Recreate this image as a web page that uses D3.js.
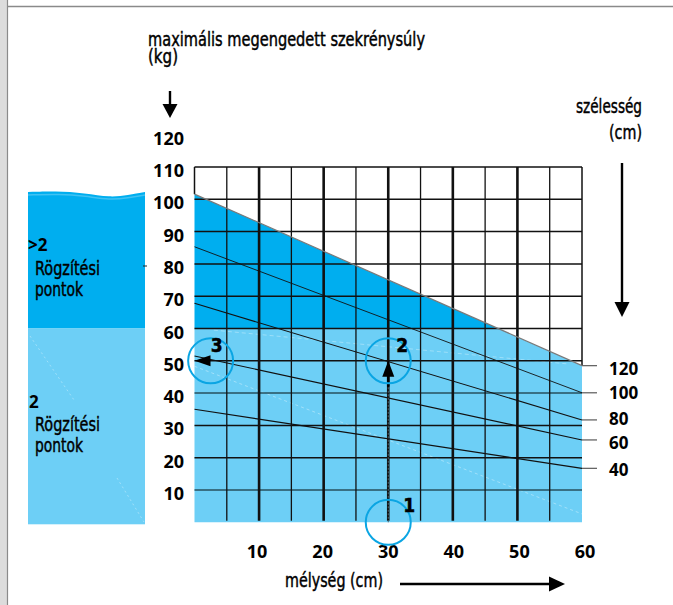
<!DOCTYPE html>
<html>
<head>
<meta charset="utf-8">
<script src="https://cdn.jsdelivr.net/npm/d3@7"></script>
<style>
  html, body { margin: 0; padding: 0; background: #fff; }
  svg { display: block; }
  .cond { font-family: "Liberation Sans Narrow", "DejaVu Sans Condensed", "Liberation Sans", sans-serif; stroke: #000; stroke-width: 0.45px; }
  .num { font-family: "Open Sans", "Noto Sans", sans-serif; font-weight: 700; }
</style>
</head>
<body>
<svg id="chart" width="673" height="605"></svg>
<script>
// Depth (cm) along the bottom, maximum permitted cabinet weight (kg) up the side
const depthTicks = [10, 20, 30, 40, 50, 60];
const weightTicks = [10, 20, 30, 40, 50, 60, 70, 80, 90, 100, 110, 120];
const gridDepths = [0, 5, 10, 15, 20, 25, 30, 35, 40, 45, 50, 55, 60];
const thickDepths = [10, 20, 30, 40, 50];
const gridWeights = [10, 20, 30, 40, 50, 60, 70, 80, 90, 100, 110];

// Cabinet widths (cm): allowed weight at depth 0 and at depth 60
const widthLabels = [120, 100, 80, 60, 40];
const widthAtDepth0 = [101.6, 85.3, 67.8, 51.5, 35.0];
const widthAtDepth60 = [48.5, 40.1, 31.7, 25.5, 16.7];

// Above this weight more than two fixing points are needed
const fixingThreshold = 60;

// Worked example: depth 30 cm, width 100 cm -> 50 kg
const exampleSteps = [
  { n: "1", depth: 30, kg: 0, labelDx: 21, labelDy: -17 },
  { n: "2", depth: 30, kg: 50, labelDx: 14, labelDy: -16 },
  { n: "3", depth: 2.5, kg: 50, labelDx: 6, labelDy: -16 }
];
const exampleDepth = 30;
const exampleKg = 50;
const exampleArrowStartKg = 42;

const darkBlue = "#00aeef";
const lightBlue = "#6dcff6";
const ringBlue = "#0aa5e3";

const svg = d3.select("#chart");
const x = d3.scaleLinear().domain([0, 60]).range([194.5, 582]);
const y = d3.scaleLinear().domain([0, 120]).range([522.3, 134.7]);

// Condensed captions are fitted to a fixed width
function caption(px, py, size, width, str, anchor) {
  return svg.append("text").attr("class", "cond")
    .attr("x", px).attr("y", py).attr("font-size", size)
    .attr("text-anchor", anchor || "start")
    .attr("textLength", width).attr("lengthAdjust", "spacingAndGlyphs")
    .text(str);
}

// Page frame
svg.append("rect").attr("x", 0).attr("y", 0).attr("width", 7).attr("height", 605).attr("fill", "#dcdcdc");
svg.append("line").attr("x1", 7.5).attr("x2", 7.5).attr("y1", 0).attr("y2", 605).attr("stroke", "#8a8a8a").attr("stroke-width", 1.2);
svg.append("line").attr("x1", 7).attr("x2", 673).attr("y1", 6.5).attr("y2", 6.5).attr("stroke", "#8a8a8a").attr("stroke-width", 1.5);

// Legend panel on the left
const panelX0 = 28, panelX1 = 145;
const wave = d3.line().curve(d3.curveBasis)([
  [panelX0, 192], [55, 191], [85, 193], [110, 197.5], [128, 195], [panelX1, 192]
]);
svg.append("path")
  .attr("d", wave + `L${panelX1},${y(fixingThreshold)}L${panelX0},${y(fixingThreshold)}Z`)
  .attr("fill", darkBlue);
svg.append("path")
  .attr("d", d3.line().curve(d3.curveBasis)([[panelX0, 195], [60, 194], [85, 196], [110, 200], [128, 198], [panelX1, 195]]))
  .attr("fill", "none").attr("stroke", "#ffffff").attr("stroke-opacity", 0.25).attr("stroke-width", 1.5);
svg.append("rect")
  .attr("x", panelX0).attr("y", y(fixingThreshold))
  .attr("width", panelX1 - panelX0).attr("height", y(0) + 2 - y(fixingThreshold))
  .attr("fill", lightBlue);
svg.append("line").attr("x1", 30).attr("y1", 336).attr("x2", 74).attr("y2", 400)
  .attr("stroke", "#fff").attr("stroke-opacity", 0.35).attr("stroke-dasharray", "2,3");
svg.append("line").attr("x1", 117).attr("y1", 478).attr("x2", 144).attr("y2", 522)
  .attr("stroke", "#fff").attr("stroke-opacity", 0.35).attr("stroke-dasharray", "2,3");
svg.append("line").attr("x1", 143).attr("x2", 147).attr("y1", 266).attr("y2", 266).attr("stroke", "#222");

svg.append("text").attr("class", "num").attr("x", 28).attr("y", 251).attr("font-size", 17).text(">2");
caption(35, 275, 20, 65, "Rögzítési");
caption(35, 296, 20, 48, "pontok");
svg.append("text").attr("class", "num").attr("x", 29).attr("y", 408).attr("font-size", 17).text("2");
caption(35, 431, 20, 65, "Rögzítési");
caption(35, 452, 20, 48, "pontok");

// Permitted area under the 120 cm width line, split at the fixing threshold
const topSlope = (widthAtDepth0[0] - widthAtDepth60[0]) / 60;
const depthAtThreshold = (widthAtDepth0[0] - fixingThreshold) / topSlope;
const area = d3.line().x(d => x(d[0])).y(d => y(d[1]));
svg.append("path")
  .attr("d", area([[0, fixingThreshold], [0, widthAtDepth0[0]], [depthAtThreshold, fixingThreshold]]) + "Z")
  .attr("fill", darkBlue);
svg.append("path")
  .attr("d", area([[0, 0], [0, fixingThreshold], [depthAtThreshold, fixingThreshold], [60, widthAtDepth60[0]], [60, 0]]) + "Z")
  .attr("fill", lightBlue);

// Faint highlight streaks in the light area
svg.append("line")
  .attr("x1", x(0)).attr("y1", y(48.3)).attr("x2", x(60)).attr("y2", y(2.6))
  .attr("stroke", "#fff").attr("stroke-opacity", 0.45).attr("stroke-width", 0.8).attr("stroke-dasharray", "3,3");
svg.append("line")
  .attr("x1", x(3)).attr("y1", y(59.5)).attr("x2", x(58)).attr("y2", y(49))
  .attr("stroke", "#fff").attr("stroke-opacity", 0.4).attr("stroke-width", 0.8).attr("stroke-dasharray", "4,3");

// Grid
const grid = svg.append("g");
grid.selectAll("line.h").data(gridWeights).join("line")
  .attr("x1", x(0)).attr("x2", x(60))
  .attr("y1", d => y(d)).attr("y2", d => y(d))
  .attr("stroke", d => (d === 40 || d === 10) ? "#27505e" : "#111")
  .attr("stroke-width", 1.5);
grid.selectAll("line.v").data(gridDepths).join("line")
  .attr("x1", d => x(d)).attr("x2", d => x(d))
  .attr("y1", y(110)).attr("y2", y(0) - 1.5)
  .attr("stroke", d => (d === 0 || d === 60) ? "none" : "#111")
  .attr("stroke-width", d => thickDepths.includes(d) ? 2.6 : 1.3);
grid.append("line").attr("x1", x(0)).attr("x2", x(0)).attr("y1", y(110)).attr("y2", y(widthAtDepth0[0]))
  .attr("stroke", "#111").attr("stroke-width", 1.5);
grid.append("line").attr("x1", x(60)).attr("x2", x(60)).attr("y1", y(110)).attr("y2", y(widthAtDepth60[0]))
  .attr("stroke", "#111").attr("stroke-width", 1.5);

// Width lines
svg.selectAll("line.width").data(widthLabels).join("line")
  .attr("x1", x(0)).attr("x2", x(60))
  .attr("y1", (d, i) => y(widthAtDepth0[i]))
  .attr("y2", (d, i) => y(widthAtDepth60[i]))
  .attr("stroke", (d, i) => i === 0 ? "#7a7a7a" : "#111")
  .attr("stroke-width", (d, i) => i === 0 ? 1.2 : (i === 1 ? 0.9 : 1.1));

// Width ticks and labels on the right
const labelNudge = [3, 0, -1, 3, 1];
svg.selectAll("line.wt").data(widthLabels).join("line")
  .attr("x1", x(60)).attr("x2", x(60) + 15)
  .attr("y1", (d, i) => y(widthAtDepth60[i])).attr("y2", (d, i) => y(widthAtDepth60[i]))
  .attr("stroke", "#666").attr("stroke-width", 1.3);
svg.selectAll("text.wl").data(widthLabels).join("text")
  .attr("class", "num").attr("font-size", 17)
  .attr("x", x(60) + 27)
  .attr("y", (d, i) => y(widthAtDepth60[i]) + 6.5 + labelNudge[i])
  .text(d => d);

// Y axis labels
svg.selectAll("text.yl").data(weightTicks).join("text")
  .attr("class", "num").attr("font-size", 18).attr("text-anchor", "end")
  .attr("x", 184).attr("y", d => y(d) + 10)
  .text(d => d);

// X axis labels
svg.selectAll("text.xl").data(depthTicks).join("text")
  .attr("class", "num").attr("font-size", 18).attr("text-anchor", "middle")
  .attr("x", d => x(d) + (d - 30) * 0.1).attr("y", 558)
  .text(d => d);

// Worked example: guide from the depth up to the width line, then across
svg.append("line")
  .attr("x1", x(exampleDepth)).attr("x2", x(exampleDepth))
  .attr("y1", y(0)).attr("y2", y(exampleArrowStartKg))
  .attr("stroke", "#4a6470").attr("stroke-width", 1).attr("stroke-dasharray", "2,1.5");
svg.append("line")
  .attr("x1", x(exampleDepth)).attr("x2", x(exampleDepth))
  .attr("y1", y(exampleArrowStartKg)).attr("y2", y(exampleKg) + 10)
  .attr("stroke", "#000").attr("stroke-width", 2.6);
svg.append("path")
  .attr("d", `M${x(exampleDepth)},${y(exampleKg)}l-6,16l12,0Z`).attr("fill", "#000");
svg.append("path")
  .attr("d", `M${x(0)},${y(exampleKg)}l16,-5.5l0,11Z`).attr("fill", "#000");

// Step rings
svg.selectAll("circle.step").data(exampleSteps).join("circle")
  .attr("cx", d => x(d.depth)).attr("cy", d => y(d.kg)).attr("r", 22.5)
  .attr("fill", "none").attr("stroke", ringBlue).attr("stroke-width", 2);
svg.selectAll("text.step").data(exampleSteps).join("text")
  .attr("class", "cond").attr("font-weight", 700).attr("font-size", 19)
  .attr("text-anchor", "middle")
  .attr("x", d => x(d.depth) + d.labelDx).attr("y", d => y(d.kg) + d.labelDy + 7)
  .text(d => d.n);

// Titles and direction arrows
caption(148, 46, 20, 277, "maximális megengedett szekrénysúly");
caption(148, 63, 20, 30, "(kg)");
svg.append("line").attr("x1", 170).attr("x2", 170).attr("y1", 91).attr("y2", 106).attr("stroke", "#000").attr("stroke-width", 2.4);
svg.append("path").attr("d", "M170,118l-7.5,-14l15,0Z").attr("fill", "#000");

caption(642, 113, 20, 66, "szélesség", "end");
caption(642, 139, 20, 33, "(cm)", "end");
svg.append("line").attr("x1", 622).attr("x2", 622).attr("y1", 163).attr("y2", 304).attr("stroke", "#000").attr("stroke-width", 2.4);
svg.append("path").attr("d", "M622,317l-7.5,-15l15,0Z").attr("fill", "#000");

caption(285, 587, 20, 98, "mélység (cm)");
svg.append("line").attr("x1", 400).attr("x2", 552).attr("y1", 584).attr("y2", 584).attr("stroke", "#000").attr("stroke-width", 2.4);
svg.append("path").attr("d", "M565,584l-16,-7.5l0,15Z").attr("fill", "#000");
</script>
</body>
</html>
